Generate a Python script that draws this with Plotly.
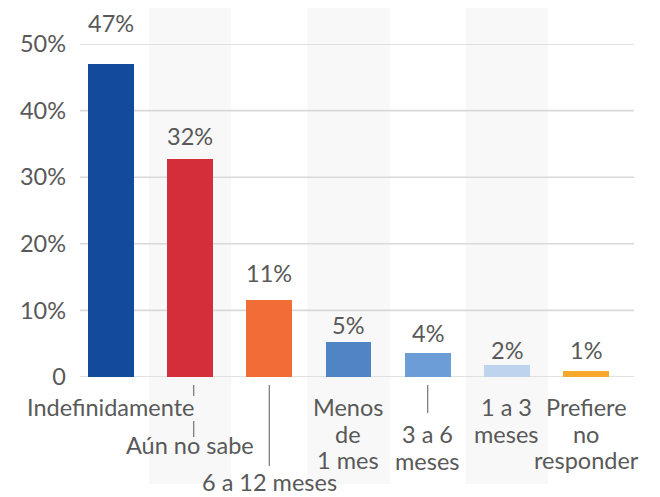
import plotly.graph_objects as go

categories = ["Indefinidamente", "Aún no sabe", "6 a 12 meses", "Menos de 1 mes",
              "3 a 6 meses", "1 a 3 meses", "Prefiere no responder"]
values = [47.0, 32.7, 11.5, 5.3, 3.6, 1.8, 0.9]
value_labels = ["47%", "32%", "11%", "5%", "4%", "2%", "1%"]
tick_vals = [0, 10, 20, 30, 40, 50]
tick_text = ["0", "10%", "20%", "30%", "40%", "50%"]

colors = ["#134a9b", "#d42e3b", "#f26d35", "#4f85c5", "#6c9dd6", "#bed4ee", "#f7a82c"]
label_shift = [25, 7, 11, 1, 4, -1, 5]

# layout helpers (reference pixels -> paper); page body has an 8px margin
OFF = 8
W, H = 660, 497
L, R, T, B = 66, 634, 44, 377
def py(p):
    return (B - p) / (B - T)
def px(p):
    return (p - L) / (R - L)

FONT = "Lato"
FS = 23.5
TXT = "#595959"

x = list(range(len(categories)))
fig = go.Figure()
fig.add_trace(go.Bar(x=x, y=values, marker=dict(color=colors, line=dict(width=0)),
                     width=0.577, showlegend=False, hoverinfo="skip"))

shapes = []
# alternating background bands
for i in [1, 3, 5]:
    shapes.append(dict(type="rect", xref="x", yref="paper", x0=i - 0.52, x1=i + 0.52,
                       y0=py(484), y1=py(0), fillcolor="#f8f8f8", line=dict(width=0), layer="below"))
# gridlines
for v in tick_vals:
    shapes.append(dict(type="line", xref="paper", yref="y", x0=px(76), x1=px(634), y0=v, y1=v,
                       line=dict(color="#d9d9d9", width=1.6), layer="below"))

# category label layout: (index, list of lines, baseline of first line in px)
label_rows = {
    0: (["Indefinidamente"], 415),
    1: (["Aún no sabe"], 453),
    2: (["6 a 12 meses"], 490),
    3: (["Menos", "de", "1 mes"], 415),
    4: (["3 a 6", "meses"], 442),
    5: (["1 a 3", "meses"], 415),
    6: (["Prefiere", "no", "responder"], 415),
}
line_gap = 26.5
annotations = []
for i, (lines, base) in label_rows.items():
    for k, t in enumerate(lines):
        b = base + k * line_gap
        annotations.append(dict(x=i, y=py(b - 8), xref="x", yref="paper", text=t, showarrow=False,
                                font=dict(family=FONT, size=FS, color=TXT), yanchor="middle",
                                xanchor="center"))
# leader lines (x in category units, y in reference pixels)
leaders = [(1.045, 385, 396), (1.045, 421, 437), (2, 385, 466), (4, 385, 413)]
for (xi, a, b) in leaders:
    shapes.append(dict(type="line", xref="x", yref="paper", x0=xi, x1=xi,
                       y0=py(a), y1=py(b), line=dict(color="#7f7f7f", width=1.3)))

# value labels
for i, (v, t) in enumerate(zip(values, value_labels)):
    annotations.append(dict(x=i, y=v, xref="x", yref="y", text=t, showarrow=False,
                            yanchor="bottom", yshift=label_shift[i],
                            font=dict(family=FONT, size=FS, color=TXT)))

fig.update_layout(
    width=W - OFF, height=H - OFF,
    margin=dict(l=L - OFF, r=W - R, t=T - OFF, b=H - B, pad=0),
    paper_bgcolor="white", plot_bgcolor="rgba(0,0,0,0)",
    shapes=shapes, annotations=annotations,
    xaxis=dict(range=[-0.517, 6.606], showticklabels=False, showgrid=False, zeroline=False,
               showline=False, ticks=""),
    yaxis=dict(range=[0, 50], tickvals=tick_vals, ticktext=tick_text, showgrid=False,
               zeroline=False, showline=False, ticks="", ticklabelstandoff=3,
               tickfont=dict(family=FONT, size=FS, color=TXT)),
    bargap=0,
)
fig.write_html("out.html")
